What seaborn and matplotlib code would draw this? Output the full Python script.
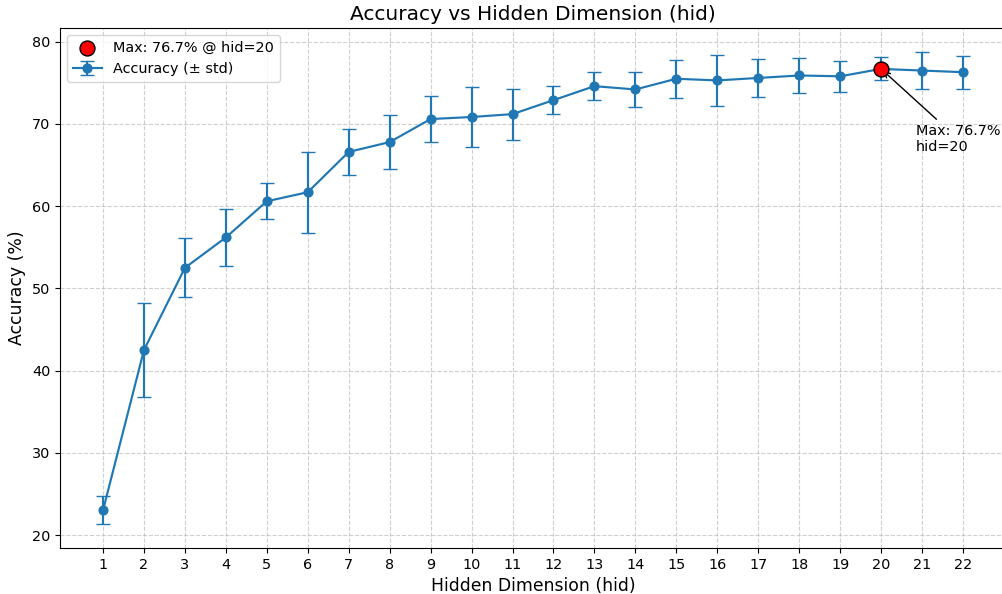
import matplotlib
matplotlib.use("Agg")
import matplotlib.pyplot as plt
import numpy as np
import pandas as pd
import seaborn as sns


hid = list(range(1, 23))
acc_mean = [23.0, 42.5, 52.5, 56.2, 60.6, 61.7, 66.6, 67.8, 70.6, 70.85, 71.2,
            72.9, 74.6, 74.2, 75.5, 75.3, 75.6, 75.9, 75.8, 76.7, 76.5, 76.3]
acc_std = [1.7, 5.7, 3.6, 3.5, 2.2, 4.9, 2.8, 3.3, 2.8, 3.6, 3.1,
           1.7, 1.7, 2.1, 2.3, 3.1, 2.3, 2.1, 1.9, 1.4, 2.3, 2.0]

SCALE = 1.035


def plot_accuracy(df: pd.DataFrame) -> str:
    fig = plt.figure(figsize=(10.02, 5.94), dpi=100)
    ax = fig.add_axes([60 / 1002, 46 / 594, 946 / 1002, 520 / 594])

    ax.errorbar(df["hid"], df["mean"], yerr=df["std"], fmt="-o", capsize=5 * SCALE,
                color="#1f77b4", markersize=6.3, linewidth=1.5 * SCALE,
                label="Accuracy (± std)")

    best = df.loc[df["mean"].idxmax()]
    best_hid = int(best["hid"])
    best_acc = best["mean"]
    sns.scatterplot(x=[best_hid], y=[best_acc], color="red", edgecolor="black",
                    s=115, linewidth=1, zorder=5, ax=ax,
                    label=f"Max: {best_acc:.1f}% @ hid={best_hid}")

    ax.annotate(f"Max: {best_acc:.1f}%\nhid={best_hid}",
                xy=(best_hid, best_acc), xytext=(best_hid + 0.85, best_acc - 10),
                fontsize=10 * SCALE, arrowprops=dict(arrowstyle="->", color="black"))

    ax.set_xticks(hid)
    ax.tick_params(labelsize=10 * SCALE)
    ax.set_title("Accuracy vs Hidden Dimension (hid)", fontsize=14 * SCALE)
    ax.set_xlabel("Hidden Dimension (hid)", fontsize=12 * SCALE)
    ax.set_ylabel("Accuracy (%)", fontsize=12 * SCALE)
    ax.grid(True, linestyle="--", alpha=0.6)
    ax.legend(loc="upper left", fontsize=10 * SCALE)

    out_file = "out.png"
    fig.savefig(out_file, dpi=100)
    return out_file


data = pd.DataFrame({"hid": hid, "mean": acc_mean, "std": acc_std})
plot_accuracy(data)
